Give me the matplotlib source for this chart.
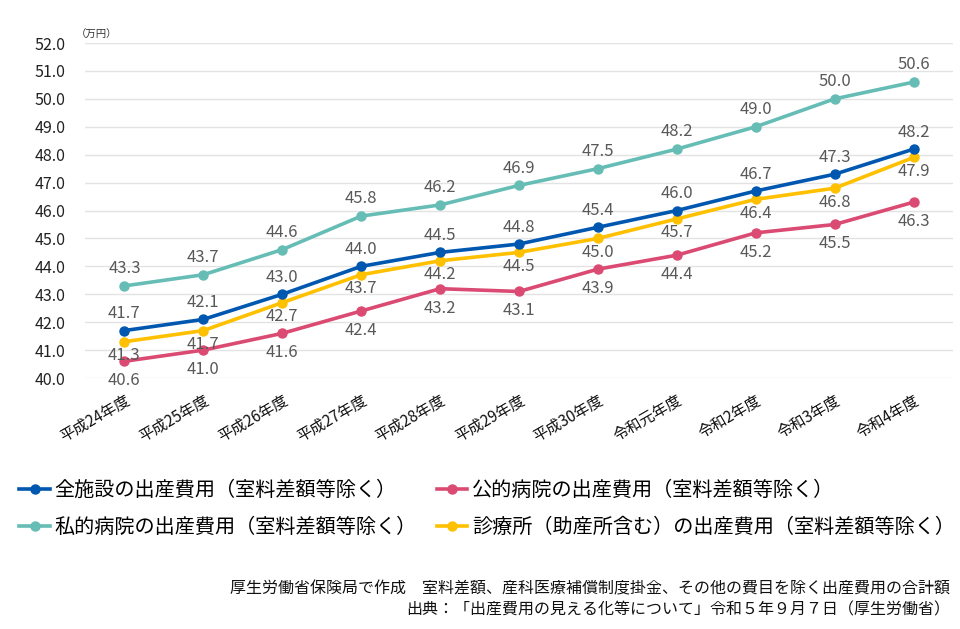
import matplotlib
matplotlib.use("Agg")
import matplotlib.pyplot as plt
from matplotlib.lines import Line2D

plt.rcParams['font.family'] = ['Noto Sans CJK JP', 'DejaVu Sans']

categories = ["平成24年度", "平成25年度", "平成26年度", "平成27年度", "平成28年度",
              "平成29年度", "平成30年度", "令和元年度", "令和2年度", "令和3年度", "令和4年度"]
all_facilities = [41.7, 42.1, 43.0, 44.0, 44.5, 44.8, 45.4, 46.0, 46.7, 47.3, 48.2]
public_hosp = [40.6, 41.0, 41.6, 42.4, 43.2, 43.1, 43.9, 44.4, 45.2, 45.5, 46.3]
private_hosp = [43.3, 43.7, 44.6, 45.8, 46.2, 46.9, 47.5, 48.2, 49.0, 50.0, 50.6]
clinics = [41.3, 41.7, 42.7, 43.7, 44.2, 44.5, 45.0, 45.7, 46.4, 46.8, 47.9]
yticks = [40.0, 41.0, 42.0, 43.0, 44.0, 45.0, 46.0, 47.0, 48.0, 49.0, 50.0, 51.0, 52.0]

names = ["全施設の出産費用（室料差額等除く）", "私的病院の出産費用（室料差額等除く）",
         "公的病院の出産費用（室料差額等除く）", "診療所（助産所含む）の出産費用（室料差額等除く）"]
colors = {"all": "#0057B0", "private": "#66BDB5", "public": "#DB4A72", "clinic": "#FFC000"}

fig = plt.figure(figsize=(9.6, 6.29), dpi=100)
ax = fig.add_axes([0.0885, 0.399, 0.9042, 0.5326])

x = list(range(len(categories)))
series = {
    "private": (private_hosp, colors["private"], 12.5),
    "all": (all_facilities, colors["all"], 12),
    "clinic": (clinics, colors["clinic"], -10),
    "public": (public_hosp, colors["public"], -14),
}
for key in ["public", "clinic", "private", "all"]:
    vals, c, off = series[key]
    ax.plot(x, vals, color=c, lw=2.6, marker='o', ms=6.5, zorder=3)
    for xi, v in zip(x, vals):
        ax.annotate(f"{v:.1f}", (xi, v), xytext=(0, off), textcoords='offset points',
                    ha='center', va='center', fontsize=12, color='#595959', zorder=4)

ax.set_xlim(-0.5, len(categories) - 0.5)
ax.set_ylim(40.0, 52.0)
ax.set_yticks(yticks)
ax.set_yticklabels([f"{t:.1f}" for t in yticks], fontsize=11.5, color='#222222')
ax.set_xticks(x)
ax.set_xticklabels(categories, rotation=30, ha='right', rotation_mode='anchor',
                   fontsize=11, color='#111111')
ax.tick_params(axis='both', length=0)
ax.tick_params(axis='y', pad=14)
ax.tick_params(axis='x', pad=10)
ax.grid(axis='y', color='#E3E3E3', lw=1)
ax.set_axisbelow(True)
for s in ax.spines.values():
    s.set_visible(False)

fig.text(0.079, 0.937, "（万円）", fontsize=7.5, color='#333333', ha='left', va='bottom')

handles = [
    Line2D([], [], color=colors["all"], lw=2.6, marker='o', ms=6.5),
    Line2D([], [], color=colors["private"], lw=2.6, marker='o', ms=6.5),
    Line2D([], [], color=colors["public"], lw=2.6, marker='o', ms=6.5),
    Line2D([], [], color=colors["clinic"], lw=2.6, marker='o', ms=6.5),
]
fig.legend(handles, names, ncol=2, loc='upper left', bbox_to_anchor=(0.014, 0.246),
           frameon=False, fontsize=14.5, handlelength=1.5, handletextpad=0.25,
           columnspacing=1.0, labelspacing=0.8, borderaxespad=0, borderpad=0.3)

fig.text(0.99, 0.063, "厚生労働省保険局で作成　室料差額、産科医療補償制度掛金、その他の費目を除く出産費用の合計額",
         ha='right', va='center', fontsize=11.5, color='#111111')
fig.text(0.99, 0.031, "出典：「出産費用の見える化等について」令和５年９月７日（厚生労働省）",
         ha='right', va='center', fontsize=11.5, color='#111111')

fig.savefig("out.png", dpi=100)
